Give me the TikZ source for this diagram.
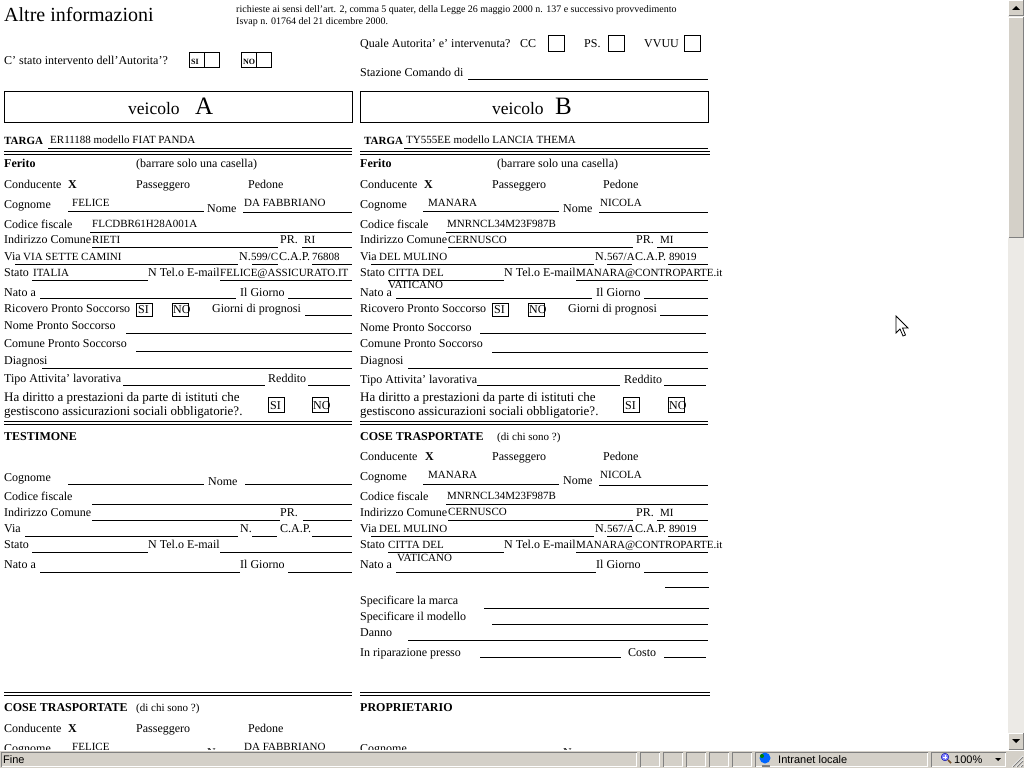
\documentclass[tikz,border=0pt]{standalone}
\usepackage{fontspec}
\setmainfont{Liberation Serif}
\newfontfamily\uifont{Liberation Sans}
\newcommand\fs[1]{\fontsize{#1}{#1}\selectfont}
\newcommand\mylab[4][lbl]{\node[#1] (#2) at (#3) {#4};}
\newcommand\myline[3]{\draw[ul] (#1,#3) -- (#2,#3);}
\definecolor{wingray}{HTML}{D4D0C8}
\definecolor{wintrack}{HTML}{ECEAE6}
\definecolor{windark}{HTML}{808080}
\tikzset{
  lbl/.style={anchor=base west, inner sep=0pt, font=\fs{12}},
  dat/.style={anchor=base west, inner sep=0pt, font=\fs{11}},
  bld/.style={anchor=base west, inner sep=0pt, font=\fs{12}\bfseries},
  big/.style={anchor=base west, inner sep=0pt, font=\fs{13}},
  ui/.style={anchor=base west, inner sep=0pt, font=\uifont\fs{11}},
  ul/.style={line width=1pt},
  bx/.style={draw, line width=1pt},
}
\begin{document}
\begin{tikzpicture}[x=1pt,y=-1pt]
\useasboundingbox (0,0) rectangle (1024,768);
\fill[white] (0,0) rectangle (1024,768);

% ---------- header ----------
\mylab[lbl,font=\fs{20}]{title}{4,22}{Altre informazioni}
\mylab[lbl,font=\fs{10}]{leg1}{236,13}{richieste ai sensi dell'art. 2, comma 5 quater, della Legge 26 maggio 2000 n. 137 e successivo provvedimento}
\mylab[lbl,font=\fs{10}]{leg2}{236,25}{Isvap n. 01764 del 21 dicembre 2000.}
\mylab{quale}{360,48}{Quale Autorita' e' intervenuta?}
\mylab{cc}{520,48}{CC}
\draw[bx] (548,36) rectangle (564,52);
\mylab{ps}{584,48}{PS.}
\draw[bx] (608,36) rectangle (624,52);
\mylab{vvuu}{644,48}{VVUU}
\draw[bx] (684,36) rectangle (700,52);
\mylab{stato0}{4,64}{C' stato intervento dell'Autorita'?}
\draw[bx] (189,53) rectangle (219,67); \draw[ul] (204,53) -- (204,67);
\mylab[bld,font=\fs{8}\bfseries]{si0}{191,64}{SI}
\draw[bx] (241,53) rectangle (271,67); \draw[ul] (256,53) -- (256,67);
\mylab[bld,font=\fs{8}\bfseries]{no0}{243,64}{NO}
\mylab{staz}{360,76}{Stazione Comando di}
\myline{468}{708}{79}

% vehicle boxes
\draw[bx] (4,91) rectangle (352,122);
\mylab[lbl,font=\fs{17.5}]{vA}{128,114}{veicolo}
\mylab[lbl,font=\fs{25}]{vAl}{195,114}{A}
\draw[bx] (360,91) rectangle (708,122);
\mylab[lbl,font=\fs{17.5}]{vB}{492,114}{veicolo}
\mylab[lbl,font=\fs{25}]{vBl}{555,114}{B}

% ---------- vehicle A ----------
\mylab[bld,font=\fs{11}\bfseries]{aTarga}{4,144}{TARGA}
\mylab[dat]{aTargaV}{50,143}{ER11188 modello FIAT PANDA}
\myline{48}{352}{148}
\myline{4}{352}{151}\myline{4}{352}{154}
\mylab[bld]{aFer}{4,167}{Ferito}
\mylab{aBarr}{136,167}{(barrare solo una casella)}
\mylab{aCond}{4,188}{Conducente}
\mylab[bld]{aX}{68,188}{X}
\mylab{aPass}{136,188}{Passeggero}
\mylab{aPed}{248,188}{Pedone}
\mylab{aCog}{4,208}{Cognome}
\mylab[dat]{aCogV}{72,206}{FELICE}
\myline{68}{204}{211}
\mylab{aNome}{207,212}{Nome}
\mylab[dat]{aNomeV}{244,206}{DA FABBRIANO}
\myline{243}{352}{212}
\mylab{aCf}{4,228}{Codice fiscale}
\mylab[dat]{aCfV}{92,227}{FLCDBR61H28A001A}
\myline{90}{352}{232}
\mylab{aInd}{4,243}{Indirizzo Comune}
\mylab[dat]{aIndV}{92,243}{RIETI}
\myline{92}{278}{247}
\mylab{aPr}{280,243}{PR.}
\mylab[dat]{aPrV}{304,243}{RI}
\myline{302}{352}{247}
\mylab{aVia}{4,260}{Via}
\mylab[dat]{aViaV}{23,260}{VIA SETTE CAMINI}
\myline{15}{238}{264}
\mylab{aN}{239,260}{N.}
\mylab[dat]{aNV}{251,260}{599/C}
\myline{252}{278}{264}
\mylab{aCap}{279,260}{C.A.P.}
\mylab[dat]{aCapV}{312,260}{76808}
\myline{312}{352}{264}
\mylab{aSt}{4,276}{Stato}
\mylab[dat]{aStV}{33,276}{ITALIA}
\myline{32}{148}{280}
\mylab{aTel}{148,276}{N Tel.o E-mail}
\mylab[dat]{aTelV}{220,276}{FELICE@ASSICURATO.IT}
\myline{220}{352}{280}
\mylab{aNato}{4,296}{Nato a}
\myline{40}{236}{298}
\mylab{aGio}{240,296}{Il Giorno}
\myline{288}{352}{298}
\mylab{aRic}{4,312}{Ricovero Pronto Soccorso}
\draw[bx] (136,303) rectangle (152,316);
\mylab{aRicSi}{138,313}{SI}
\draw[bx] (172,303) rectangle (188,316);
\mylab{aRicNo}{173,313}{NO}
\mylab{aProg}{212,312}{Giorni di prognosi}
\myline{305}{352}{315}
\mylab{aNps}{4,329}{Nome Pronto Soccorso}
\myline{126}{352}{333}
\mylab{aCps}{4,347}{Comune Pronto Soccorso}
\myline{136}{352}{351}
\mylab{aDia}{4,364}{Diagnosi}
\myline{42}{352}{368}
\mylab{aTipo}{4,382}{Tipo Attivita' lavorativa}
\myline{123}{265}{385}
\mylab{aRed}{268,382}{Reddito}
\myline{308}{350}{385}
\mylab[big]{aHa1}{4,401}{Ha diritto a prestazioni da parte di istituti che}
\mylab[big]{aHa2}{4,415}{gestiscono assicurazioni sociali obbligatorie?.}
\draw[bx] (268,397) rectangle (284,412);
\mylab{aHaSi}{270,409}{SI}
\draw[bx] (312,397) rectangle (328,412);
\mylab{aHaNo}{313,409}{NO}
\myline{4}{352}{421}\myline{4}{352}{424}

% ---------- testimone ----------
\mylab[bld]{tTit}{4,440}{TESTIMONE}
\mylab{tCog}{4,481}{Cognome}
\myline{68}{204}{484}
\mylab{tNome}{208,485}{Nome}
\myline{245}{352}{484}
\mylab{tCf}{4,500}{Codice fiscale}
\myline{92}{352}{504}
\mylab{tInd}{4,516}{Indirizzo Comune}
\myline{92}{280}{520}
\mylab{tPr}{280,516}{PR.}
\myline{303}{352}{520}
\mylab{tVia}{4,532}{Via}
\myline{25}{238}{536}
\mylab{tN}{240,532}{N.}
\myline{252}{277}{536}
\mylab{tCap}{280,532}{C.A.P.}
\myline{312}{352}{536}
\mylab{tSt}{4,548}{Stato}
\myline{32}{148}{552}
\mylab{tTel}{148,548}{N Tel.o E-mail}
\myline{220}{352}{552}
\mylab{tNato}{4,568}{Nato a}
\myline{40}{240}{572}
\mylab{tGio}{240,568}{Il Giorno}
\myline{288}{352}{572}

% ---------- vehicle B ----------
\mylab[bld,font=\fs{11}\bfseries]{bTarga}{364,144}{TARGA}
\mylab[dat]{bTargaV}{406,143}{TY555EE modello LANCIA THEMA}
\myline{404}{708}{148}
\myline{360}{710}{151}\myline{360}{710}{154}
\mylab[bld]{bFer}{360,167}{Ferito}
\mylab{bBarr}{497,167}{(barrare solo una casella)}
\mylab{bCond}{360,188}{Conducente}
\mylab[bld]{bX}{424,188}{X}
\mylab{bPass}{492,188}{Passeggero}
\mylab{bPed}{603,188}{Pedone}
\mylab{bCog}{360,208}{Cognome}
\mylab[dat]{bCogV}{428,206}{MANARA}
\myline{423}{559}{211}
\mylab{bNome}{563,212}{Nome}
\mylab[dat]{bNomeV}{600,206}{NICOLA}
\myline{599}{708}{212}
\mylab{bCf}{360,228}{Codice fiscale}
\mylab[dat]{bCfV}{447,227}{MNRNCL34M23F987B}
\myline{446}{708}{232}
\mylab{bInd}{360,243}{Indirizzo Comune}
\mylab[dat]{bIndV}{448,243}{CERNUSCO}
\myline{448}{633}{247}
\mylab{bPr}{636,243}{PR.}
\mylab[dat]{bPrV}{660,243}{MI}
\myline{657}{708}{247}
\mylab{bVia}{360,260}{Via}
\mylab[dat]{bViaV}{379,260}{DEL MULINO}
\myline{371}{594}{264}
\mylab{bN}{595,260}{N.}
\mylab[dat]{bNV}{607,260}{567/A}
\myline{607}{632}{264}
\mylab{bCap}{635,260}{C.A.P.}
\mylab[dat]{bCapV}{669,260}{89019}
\myline{668}{708}{264}
\mylab{bSt}{360,276}{Stato}
\mylab[dat]{bStV}{388,276}{CITTA DEL}
\mylab[dat]{bStV2}{388,288}{VATICANO}
\myline{388}{504}{280}
\mylab{bTel}{504,276}{N Tel.o E-mail}
\mylab[dat]{bTelV}{576,276}{MANARA@CONTROPARTE.it}
\myline{576}{708}{280}
\mylab{bNato}{360,296}{Nato a}
\myline{396}{592}{298}
\mylab{bGio}{596,296}{Il Giorno}
\myline{644}{708}{298}
\mylab{bRic}{360,312}{Ricovero Pronto Soccorso}
\draw[bx] (492,303) rectangle (508,316);
\mylab{bRicSi}{494,313}{SI}
\draw[bx] (528,303) rectangle (544,316);
\mylab{bRicNo}{529,313}{NO}
\mylab{bProg}{568,312}{Giorni di prognosi}
\myline{660}{708}{315}
\mylab{bNps}{360,331}{Nome Pronto Soccorso}
\myline{480}{706}{333}
\mylab{bCps}{360,347}{Comune Pronto Soccorso}
\myline{492}{708}{352}
\mylab{bDia}{360,364}{Diagnosi}
\myline{408}{708}{368}
\mylab{bTipo}{360,383}{Tipo Attivita' lavorativa}
\myline{477}{620}{385}
\mylab{bRed}{624,383}{Reddito}
\myline{664}{706}{385}
\mylab[big]{bHa1}{360,401}{Ha diritto a prestazioni da parte di istituti che}
\mylab[big]{bHa2}{360,415}{gestiscono assicurazioni sociali obbligatorie?.}
\draw[bx] (623,397) rectangle (639,412);
\mylab{bHaSi}{625,409}{SI}
\draw[bx] (668,397) rectangle (684,412);
\mylab{bHaNo}{669,409}{NO}
\myline{360}{708}{421}\myline{360}{708}{424}

% ---------- cose trasportate B ----------
\mylab[bld]{cTit}{360,440}{COSE TRASPORTATE}
\mylab[lbl,font=\fs{11}]{cChi}{497,440}{(di chi sono ?)}
\mylab{cCond}{360,460}{Conducente}
\mylab[bld]{cX}{425,460}{X}
\mylab{cPass}{492,460}{Passeggero}
\mylab{cPed}{603,460}{Pedone}
\mylab{cCog}{360,480}{Cognome}
\mylab[dat]{cCogV}{428,478}{MANARA}
\myline{423}{559}{484}
\mylab{cNome}{563,484}{Nome}
\mylab[dat]{cNomeV}{600,478}{NICOLA}
\myline{599}{708}{485}
\mylab{cCf}{360,500}{Codice fiscale}
\mylab[dat]{cCfV}{447,499}{MNRNCL34M23F987B}
\myline{446}{708}{504}
\mylab{cInd}{360,516}{Indirizzo Comune}
\mylab[dat]{cIndV}{448,515}{CERNUSCO}
\myline{448}{633}{520}
\mylab{cPr}{636,516}{PR.}
\mylab[dat]{cPrV}{660,516}{MI}
\myline{657}{708}{520}
\mylab{cVia}{360,532}{Via}
\mylab[dat]{cViaV}{379,532}{DEL MULINO}
\myline{371}{594}{536}
\mylab{cN}{595,532}{N.}
\mylab[dat]{cNV}{607,532}{567/A}
\myline{607}{632}{536}
\mylab{cCap}{635,532}{C.A.P.}
\mylab[dat]{cCapV}{669,532}{89019}
\myline{668}{708}{536}
\mylab{cSt}{360,548}{Stato}
\mylab[dat]{cStV}{388,548}{CITTA DEL}
\myline{388}{504}{552}
\mylab{cTel}{504,548}{N Tel.o E-mail}
\mylab[dat]{cTelV}{576,548}{MANARA@CONTROPARTE.it}
\myline{576}{708}{552}
\mylab{cNato}{360,568}{Nato a}
\mylab[dat]{cNatoV}{397,561}{VATICANO}
\myline{396}{596}{572}
\mylab{cGio}{596,568}{Il Giorno}
\myline{644}{708}{572}
\myline{665}{709}{587}
\mylab{cMarca}{360,604}{Specificare la marca}
\myline{484}{709}{608}
\mylab{cMod}{360,620}{Specificare il modello}
\myline{492}{708}{624}
\mylab{cDanno}{360,636}{Danno}
\myline{408}{708}{640}
\mylab{cRip}{360,656}{In riparazione presso}
\myline{480}{621}{657}
\mylab{cCosto}{628,656}{Costo}
\myline{664}{706}{657}

% ---------- bottom sections ----------
\myline{4}{352}{692}\myline{4}{352}{695}
\myline{360}{710}{692}\myline{360}{710}{695}
\mylab[bld]{dTit}{4,711}{COSE TRASPORTATE}
\mylab[lbl,font=\fs{11}]{dChi}{136,711}{(di chi sono ?)}
\mylab{dCond}{4,732}{Conducente}
\mylab[bld]{dX}{68,732}{X}
\mylab{dPass}{136,732}{Passeggero}
\mylab{dPed}{248,732}{Pedone}
\mylab{dCog}{4,752}{Cognome}
\mylab[dat]{dCogV}{72,750}{FELICE}
\mylab{dNome}{207,756}{Nome}
\mylab[dat]{dNomeV}{244,750}{DA FABBRIANO}
\mylab[bld]{pTit}{360,711}{PROPRIETARIO}
\mylab{pCog}{360,752}{Cognome}
\mylab{pNome}{563,756}{Nome}

% ---------- mouse cursor ----------
\draw[fill=white, line width=0.8pt, line join=miter]
  (896,316) -- (896,333) -- (900,329) -- (903,336) -- (905.5,335) -- (902.5,328) -- (908,328) -- cycle;

% ---------- scrollbar ----------
\fill[wintrack] (1008,0) rectangle (1024,750);
\fill[wingray] (1008,0) rectangle (1024,16);
\draw[white, line width=1pt] (1008.5,16) -- (1008.5,0.5) -- (1023,0.5);
\draw[windark, line width=1pt] (1008.5,15.5) -- (1023.5,15.5) -- (1023.5,0);
\fill[black] (1012,10) -- (1020,10) -- (1016,6) -- cycle;
\fill[wingray] (1008,17) rectangle (1024,238);
\draw[white, line width=1pt] (1008.5,238) -- (1008.5,17.5) -- (1023,17.5);
\draw[windark, line width=1pt] (1008.5,237.5) -- (1023.5,237.5) -- (1023.5,17);
\fill[wingray] (1008,733) rectangle (1024,750);
\draw[white, line width=1pt] (1008.5,750) -- (1008.5,733.5) -- (1023,733.5);
\draw[windark, line width=1pt] (1008.5,749.5) -- (1023.5,749.5) -- (1023.5,733);
\fill[black] (1012,739) -- (1020,739) -- (1016,743) -- cycle;

% ---------- status bar ----------
\fill[wingray] (0,750) rectangle (1024,768);
\draw[white, line width=1pt] (0,750.5) -- (1024,750.5);
\foreach \xa/\xb in {1/637, 640/660, 663/683, 686/706, 709/729, 732/752, 755/928, 931/1006}{
  \draw[windark, line width=1pt] (\xa+0.5,767) -- (\xa+0.5,752.5) -- (\xb-0.5,752.5);
  \draw[white, line width=1pt] (\xa+0.5,766.5) -- (\xb-0.5,766.5) -- (\xb-0.5,752.5);
}
\mylab[ui]{fine}{3,763}{Fine}
\fill[blue!60!cyan] (765,758) circle (5.5);
\fill[green!50!black] (762,756) circle (2);
\fill[windark] (762,765) rectangle (770,767);
\mylab[ui]{intra}{778,763}{Intranet locale}
\draw[fill=blue!50!white, draw=blue!60!black] (945,757) circle (3.8);
\draw[white, line width=1pt] (943,757) -- (947,757) (945,755) -- (945,759);
\draw[brown!60!black, line width=1.6pt] (948,760) -- (951,763);
\mylab[ui]{zoomp}{954,763}{100\%}
\fill[black] (995,758) -- (1001,758) -- (998,761) -- cycle;
\foreach \k in {0,4,8}{
  \draw[white, line width=0.8pt] (1012+\k,767) -- (1023,756+\k);
  \draw[windark, line width=0.8pt] (1013+\k,767) -- (1023,757+\k);
}
\end{tikzpicture}
\end{document}
